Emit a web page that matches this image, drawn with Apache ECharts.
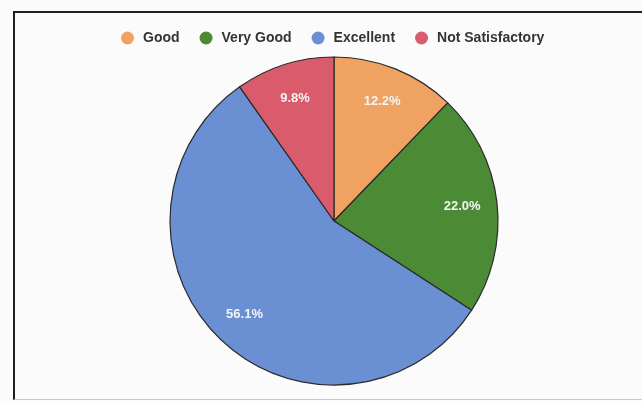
<!DOCTYPE html>
<html>
<head>
<meta charset="utf-8">
<script src="https://cdn.jsdelivr.net/npm/echarts@6/dist/echarts.min.js"></script>
<style>
html,body{margin:0;padding:0;background:#fbfbfb;}
#wrap{position:relative;width:642px;height:403px;overflow:hidden;}
#chart{position:absolute;left:0;top:0;width:642px;height:403px;}
#frame{position:absolute;left:13px;top:11px;width:700px;height:386px;border-left:2px solid #1e1e1e;border-top:2px solid #1e1e1e;border-bottom:1px solid #c8c8c8;pointer-events:none;}
</style>
</head>
<body>
<div id="wrap"><div id="chart"></div><div id="frame"></div></div>
<script>
const categories = ['Good', 'Very Good', 'Excellent', 'Not Satisfactory'];
const counts = [5, 9, 23, 4];
const colors = ['#f0a262', '#4b8b36', '#6a8fd2', '#d95b6c'];

const total = counts.reduce((a, b) => a + b, 0);
const data = categories.map((c, i) => ({ name: c, value: counts[i], itemStyle: { color: colors[i] } }));
const labelData = categories.map((c, i) => ({ name: c, value: counts[i] }));

const chart = echarts.init(document.getElementById('chart'));
chart.setOption({
  backgroundColor: 'transparent',
  animation: false,
  legend: {
    top: 26,
    left: 116,
    icon: 'circle',
    itemWidth: 13,
    itemHeight: 13,
    itemGap: 20,
    itemStyle: { borderWidth: 0 },
    textStyle: { fontFamily: 'Liberation Sans, Arial, sans-serif', fontWeight: 'bold', fontSize: 14, color: '#333', padding: [0, 0, 0, 4] },
    data: categories
  },
  series: [
    {
      type: 'pie',
      center: [334, 221],
      radius: [0, 164],
      startAngle: 90,
      clockwise: true,
      label: { show: false },
      labelLine: { show: false },
      itemStyle: { borderColor: '#2a2a2a', borderWidth: 1.2 },
      emphasis: { disabled: true },
      data: data
    },
    {
      type: 'pie',
      center: [334, 221],
      radius: [0, 252],
      startAngle: 90,
      clockwise: true,
      silent: true,
      legendHoverLink: false,
      itemStyle: { color: 'transparent', borderWidth: 0 },
      emphasis: { disabled: true },
      label: {
        show: true,
        position: 'inside',
        formatter: p => (p.value / total * 100).toFixed(1) + '%',
        color: '#f4f4f4',
        fontFamily: 'Liberation Sans, Arial, sans-serif',
        fontWeight: 'bold',
        fontSize: 13
      },
      labelLine: { show: false },
      data: labelData
    }
  ]
});
</script>
</body>
</html>
